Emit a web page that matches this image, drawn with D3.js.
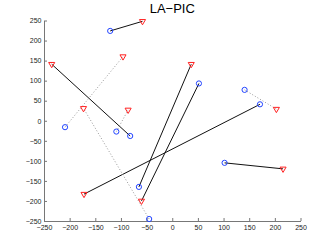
<!DOCTYPE html>
<html>
<head>
<meta charset="utf-8">
<script src="https://cdn.jsdelivr.net/npm/d3@7"></script>
<style>
  body { margin: 0; background: #fff; }
  svg { display: block; font-family: "Liberation Sans", Arial, sans-serif; }
  .axis path, .axis line { stroke: #777; }
  .axis text { fill: #222; font-size: 7px; }
</style>
</head>
<body>
<svg width="332" height="250"></svg>
<script>
// pairs: circle (blue) and triangle (red), joined by a solid or dotted line
const circleX = [-121, -82, -65, 52, 171, 102, -209, -45, -109, 141];
const circleY = [224, -38, -165, 93, 41, -105, -16, -245, -27, 77];
const triX    = [-58, -235, 37, -60, -172, 216, -96, -173, -86, 203];
const triY    = [248, 141, 141, -200, -183, -120, 160, 31, 27, 29];
const linkType = ['solid','solid','solid','solid','solid','solid','dotted','dotted','dotted','dotted'];
const ticks = [-250, -200, -150, -100, -50, 0, 50, 100, 150, 200, 250];

const svg = d3.select('svg');
const mLeft = 44, mRight = 300.5, mTop = 20.5, mBottom = 221;

const x = d3.scaleLinear().domain([-250, 250]).range([mLeft, mRight]);
const y = d3.scaleLinear().domain([-250, 250]).range([mBottom, mTop]);

svg.append('g')
   .attr('class', 'axis')
   .attr('transform', 'translate(0,' + mBottom + ')')
   .call(d3.axisBottom(x).tickValues(ticks).tickSizeInner(-3).tickSizeOuter(0).tickPadding(4.5));

svg.append('g')
   .attr('class', 'axis')
   .attr('transform', 'translate(' + mLeft + ',0)')
   .call(d3.axisLeft(y).tickValues(ticks).tickSizeInner(-3).tickSizeOuter(0).tickPadding(2.5));

d3.selectAll('.axis .domain').attr('stroke', '#777');

const pairs = circleX.map((d, i) => ({cx: d, cy: circleY[i], tx: triX[i], ty: triY[i], type: linkType[i]}));

svg.append('g')
   .selectAll('line')
   .data(pairs)
   .enter()
   .append('line')
   .attr('x1', d => x(d.cx))
   .attr('y1', d => y(d.cy))
   .attr('x2', d => x(d.tx))
   .attr('y2', d => y(d.ty))
   .attr('stroke', d => d.type == 'solid' ? '#111' : '#999')
   .attr('stroke-width', 1)
   .attr('stroke-dasharray', d => d.type == 'solid' ? null : '1,2');

svg.append('g')
   .selectAll('circle')
   .data(pairs)
   .enter()
   .append('circle')
   .attr('cx', d => x(d.cx))
   .attr('cy', d => y(d.cy))
   .attr('r', 2.6)
   .attr('fill', 'none')
   .attr('stroke', '#2244ff')
   .attr('stroke-width', 1);

const tri = d3.symbol().type(d3.symbolTriangle).size(16);
svg.append('g')
   .selectAll('path')
   .data(pairs)
   .enter()
   .append('path')
   .attr('d', tri)
   .attr('transform', d => 'translate(' + x(d.tx) + ',' + y(d.ty) + ') rotate(180)')
   .attr('fill', 'none')
   .attr('stroke', '#ff2020')
   .attr('stroke-width', 1);

svg.append('text')
   .attr('x', (mLeft + mRight) / 2)
   .attr('y', 12.5)
   .attr('text-anchor', 'middle')
   .style('font-size', '13px')
   .style('fill', '#000')
   .text('LA\u2212PIC');
</script>
</body>
</html>
